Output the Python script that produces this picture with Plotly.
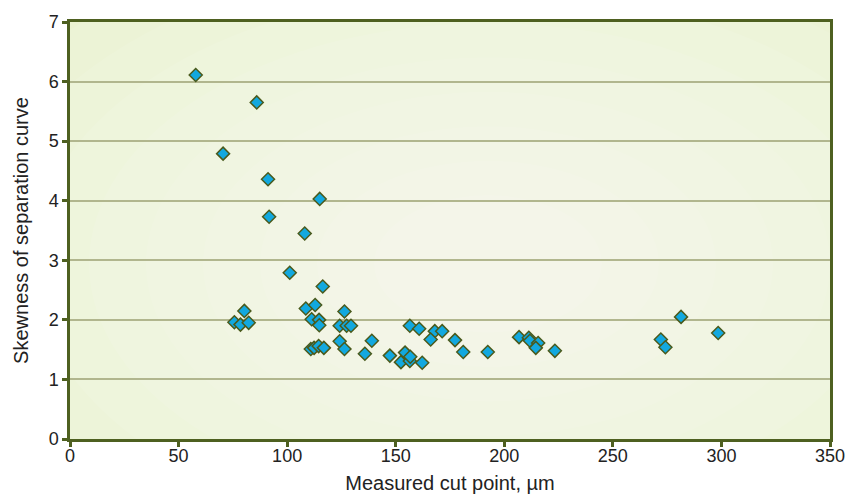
import plotly.graph_objects as go

cut_point = [57.9, 86.0, 70.5, 91.2, 115.0, 91.7, 108.1, 101.2, 80.3, 75.7, 78.5, 82.3,
             116.4, 108.6, 112.9, 111.3, 114.7, 114.8, 126.4, 124.2, 127.4, 129.4, 124.2, 126.4,
             110.9, 112.4, 114.5, 116.9, 139.0, 135.8, 147.3, 156.5, 160.8, 154.3, 152.4, 156.5,
             156.7, 162.2, 168.0, 171.4, 166.1, 177.3, 181.1, 192.4, 206.8, 211.3, 211.8, 215.6,
             214.5, 223.3, 272.1, 274.2, 281.4, 298.5]
skewness = [6.11, 5.65, 4.79, 4.36, 4.03, 3.73, 3.45, 2.79, 2.15, 1.96, 1.92, 1.95,
            2.56, 2.19, 2.25, 2.01, 2.00, 1.91, 2.14, 1.90, 1.90, 1.90, 1.64, 1.51,
            1.51, 1.53, 1.56, 1.53, 1.65, 1.43, 1.40, 1.90, 1.85, 1.45, 1.29, 1.31,
            1.38, 1.28, 1.81, 1.81, 1.67, 1.66, 1.46, 1.46, 1.71, 1.70, 1.65, 1.61,
            1.53, 1.48, 1.67, 1.54, 2.05, 1.78]

x_ticks = [0, 50, 100, 150, 200, 250, 300, 350]
y_ticks = [0, 1, 2, 3, 4, 5, 6, 7]

TICK_FONT = "Liberation Sans Narrow, Arial Narrow, Liberation Sans, sans-serif"
TITLE_FONT = "Liberation Sans, Arial, sans-serif"
OLIVE = "#4e6020"

fig = go.Figure()
fig.add_trace(go.Scatter(
    x=cut_point, y=skewness, mode="markers",
    marker=dict(symbol="diamond", size=10, color="#12a8df",
                line=dict(color="#4a5a1c", width=1.5)),
    showlegend=False, hoverinfo="x+y"))

# soft radial highlight in the plot area
shapes = []
n = 9
for i in range(n):
    r = 0.75 - i * 0.075
    shapes.append(dict(type="circle", xref="x domain", yref="y domain",
                       x0=0.55 - r, x1=0.55 + r, y0=0.42 - r * 1.1, y1=0.42 + r * 1.1,
                       fillcolor="rgba(255,255,255,0.09)", line=dict(width=0),
                       layer="below"))

fig.update_layout(
    width=846, height=494,
    margin=dict(l=70, r=16, t=22, b=55, autoexpand=False),
    paper_bgcolor="white",
    plot_bgcolor="#ebf2d2",
    font=dict(family=TICK_FONT, size=18, color="#222222"),
    shapes=shapes,
    xaxis=dict(range=[0, 350], tickvals=x_ticks, ticktext=[str(v) for v in x_ticks],
               showgrid=False, zeroline=False, automargin=False,
               showline=True, linecolor=OLIVE, linewidth=2.5, mirror=True,
               ticks="outside", ticklen=5, tickwidth=2.5, tickcolor=OLIVE,
               ticklabelstandoff=-6,
               tickfont=dict(family=TICK_FONT, size=18),
               title=dict(text="Measured cut point, µm", font=dict(family=TITLE_FONT, size=20))),
    yaxis=dict(range=[0, 7], tickvals=y_ticks, ticktext=[str(v) for v in y_ticks],
               showgrid=True, gridcolor="#b1b68e", gridwidth=2, zeroline=False, automargin=False,
               showline=True, linecolor=OLIVE, linewidth=2.5, mirror=True,
               ticks="outside", ticklen=5, tickwidth=2.5, tickcolor=OLIVE,
               tickfont=dict(family=TICK_FONT, size=18),
               title=dict(text="Skewness of separation curve", font=dict(family=TITLE_FONT, size=20))),
)

fig.write_html(
    "out.html",
    config={"displayModeBar": False},
    post_script="document.body.style.margin='0';document.documentElement.style.overflow='hidden';",
)
